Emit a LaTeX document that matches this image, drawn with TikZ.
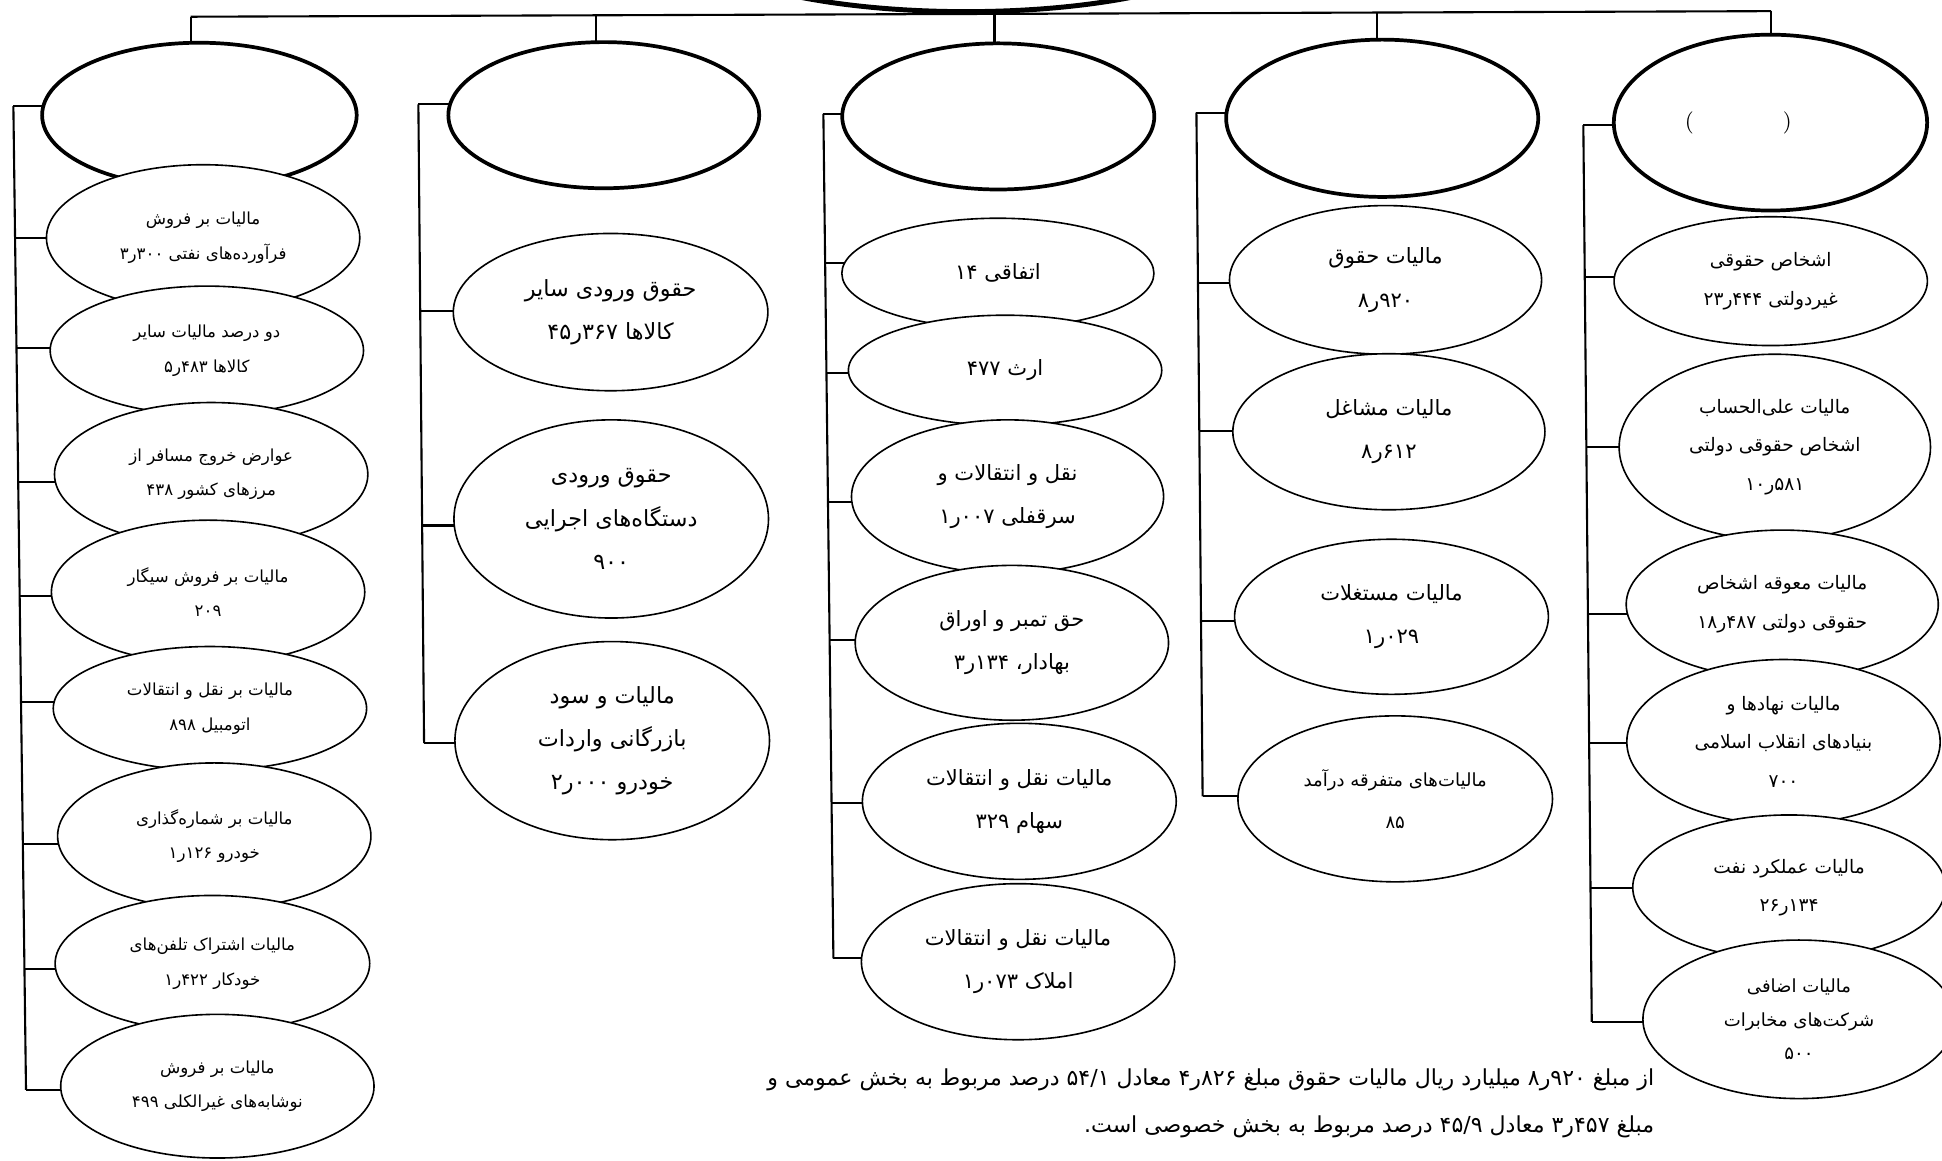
\documentclass[tikz,border=0pt]{standalone}
\usepackage{fontspec}
\newfontfamily\arabicfont[Script=Arabic]{DejaVu Sans}
\TeXXeTstate=1
\usetikzlibrary{shapes.geometric}
\pgfdeclarelayer{bg}
\pgfsetlayers{bg,main}
\newcommand\ArL[1]{\beginR #1\endR}
\newcommand\NS[2]{\beginL #1\kern0pt ر\kern0pt #2\endL}
\begin{document}
\begin{tikzpicture}[x=0.5pt,y=-0.5pt,
  el/.style 2 args={ellipse, draw, fill=white, inner sep=0pt, outer sep=0pt,
    minimum width=#1pt, minimum height=#2pt, align=center},
  topel/.style 2 args={el={#1}{#2}, line width=1.5pt},
  sub/.style 2 args={el={#1}{#2}, line width=0.65pt},
  conn/.style={line width=0.85pt},
  tk/.style={conn, shorten >=-2pt},
  fa/.style={font=\arabicfont\fontsize{6.7}{14}\selectfont},
  fb/.style={font=\arabicfont\fontsize{8.5}{17.5}\selectfont},
  fbb/.style={font=\arabicfont\fontsize{9}{17.5}\selectfont},
  fc/.style={font=\arabicfont\fontsize{7.5}{15.5}\selectfont},
  fn/.style={font=\arabicfont\fontsize{8.9}{19}\selectfont, align=right, inner sep=0pt}]
\useasboundingbox (0,0) rectangle (1568,937);

% title and top level
\node[topel={226}{60}, line width=2pt] (title) at (780,-50.6) {};
\node[topel={127}{58.5}] (t1) at (161,93) {};
\node[topel={125.5}{59}] (t2) at (487.5,93) {};
\node[topel={126}{59}] (t3) at (806,94) {};
\node[topel={126}{63.5}] (t4) at (1116,95.5) {};
\node[topel={126.5}{71}, font=\rmfamily\fontsize{9}{10}\selectfont] (t5) at (1429.5,99) {(\hspace{36pt})\hspace{26pt}};

% column 1
\node[sub={126.5}{59}, fa] (a1) at (164,192) {\ArL{مالیات بر فروش}\\\ArL{فرآورده‌های نفتی \NS{۳}{۳۰۰}}};
\node[sub={126.5}{52}, fa] (a2) at (167,283) {\ArL{دو درصد مالیات سایر}\\\ArL{کالاها \NS{۵}{۴۸۳}}};
\node[sub={126.5}{58}, fa] (a3) at (170.5,383) {\ArL{عوارض خروج مسافر از}\\\ArL{مرزهای کشور ۴۳۸}};
\node[sub={126.5}{58}, fa] (a4) at (168,478) {\ArL{مالیات بر فروش سیگار}\\\ArL{۲۰۹}};
\node[sub={126.5}{50}, fa] (a5) at (169.5,572) {\ArL{مالیات بر نقل و انتقالات}\\\ArL{اتومبیل ۸۹۸}};
\node[sub={126.5}{59}, fa] (a6) at (173,675) {\ArL{مالیات بر شماره‌گذاری}\\\ArL{خودرو \NS{۱}{۱۲۶}}};
\node[sub={127}{55}, fa] (a7) at (171.5,778) {\ArL{مالیات اشتراک تلفن‌های}\\\ArL{خودکار \NS{۱}{۴۲۲}}};
\node[sub={126.5}{58}, fa] (a8) at (175.5,877) {\ArL{مالیات بر فروش}\\\ArL{نوشابه‌های غیرالکلی ۴۹۹}};

% column 2
\node[sub={127}{63.5}, fbb] (b1) at (493,252) {\ArL{حقوق ورودی سایر}\\\ArL{کالاها \NS{۴۵}{۳۶۷}}};
\node[sub={127}{80}, fbb] (b2) at (493.5,419) {\ArL{حقوق ورودی}\\\ArL{دستگاه‌های اجرایی}\\\ArL{۹۰۰}};
\node[sub={127}{80}, fbb] (b3) at (494.3,598) {\ArL{مالیات و سود}\\\ArL{بازرگانی واردات}\\\ArL{خودرو \NS{۲}{۰۰۰}}};

% column 3
\node[sub={126}{44.5}, fb] (c1) at (805.7,220.7) {\ArL{اتفاقی ۱۴}};
\node[sub={126.5}{44.5}, fb] (c2) at (811.5,299) {\ArL{ارث ۴۷۷}};
\node[sub={126}{62}, fb] (c3) at (813.5,401) {\ArL{نقل و انتقالات و}\\\ArL{سرقفلی \NS{۱}{۰۰۷}}};
\node[sub={126.5}{62.5}, fb] (c4) at (817,519) {\ArL{حق تمبر و اوراق}\\\ArL{بهادار، \NS{۳}{۱۳۴}}};
\node[sub={126.7}{63}, fb] (c5) at (823,647) {\ArL{مالیات نقل و انتقالات}\\\ArL{سهام ۳۲۹}};
\node[sub={126.5}{63}, fb] (c6) at (822,776.5) {\ArL{مالیات نقل و انتقالات}\\\ArL{املاک \NS{۱}{۰۷۳}}};

% column 4
\node[sub={126}{60}, fb] (d1) at (1118.7,226) {\ArL{مالیات حقوق}\\\ArL{\NS{۸}{۹۲۰}}};
\node[sub={126}{63}, fb] (d2) at (1121.4,348.6) {\ArL{مالیات مشاغل}\\\ArL{\NS{۸}{۶۱۲}}};
\node[sub={126.7}{62.6}, fb] (d3) at (1123.5,498) {\ArL{مالیات مستغلات}\\\ArL{\NS{۱}{۰۲۹}}};
\node[sub={127}{67}, fb, font=\arabicfont\fontsize{7.3}{17}\selectfont] (d4) at (1126.5,645) {\ArL{مالیات‌های متفرقه درآمد}\\\ArL{۸۵}};

% column 5
\node[sub={126.5}{52}, fc] (e1) at (1429.7,227) {\ArL{اشخاص حقوقی}\\\ArL{غیردولتی \NS{۲۳}{۴۴۴}}};
\node[sub={125.7}{75}, fc] (e2) at (1433,361) {\ArL{مالیات علی‌الحساب}\\\ArL{اشخاص حقوقی دولتی}\\\ArL{\NS{۱۰}{۵۸۱}}};
\node[sub={126}{60}, fc] (e3) at (1439,488) {\ArL{مالیات معوقه اشخاص}\\\ArL{حقوقی دولتی \NS{۱۸}{۴۸۷}}};
\node[sub={126.5}{66.5}, fc] (e4) at (1440,599) {\ArL{مالیات نهادها و}\\\ArL{بنیادهای انقلاب اسلامی}\\\ArL{۷۰۰}};
\node[sub={126.2}{58.5}, fc] (e5) at (1444.5,716.5) {\ArL{مالیات عملکرد نفت}\\\ArL{\NS{۲۶}{۱۳۴}}};
\node[sub={126}{64}, fc, font=\arabicfont\fontsize{7.3}{13.5}\selectfont] (e6) at (1452.5,823) {\ArL{مالیات اضافی}\\\ArL{شرکت‌های مخابرات}\\\ArL{۵۰۰}};

% footnote
\node[fn, anchor=east] (note) at (1336,891) {\ArL{از مبلغ \NS{۸}{۹۲۰} میلیارد ریال مالیات حقوق مبلغ \NS{۴}{۸۲۶} معادل ۵۴/۱ درصد مربوط به بخش عمومی و}\\\ArL{مبلغ \NS{۳}{۴۵۷} معادل ۴۵/۹ درصد مربوط به بخش خصوصی است.}};

\begin{pgfonlayer}{bg}
% top bar and drops
\coordinate (bar1) at (154,13.5);
\coordinate (bar2) at (481,12.35);
\coordinate (bar3) at (803,11.2);
\coordinate (bar4) at (1112,10.1);
\coordinate (bar5) at (1430,9);
\draw[conn] (bar1) -- (bar5);
\draw[tk] (bar1) -- (bar1 |- t1.north);
\draw[tk] (bar2) -- (bar2 |- t2.north);
\draw[tk] (bar3) -- (bar3 |- t3.north);
\draw[tk] (bar4) -- (bar4 |- t4.north);
\draw[tk] (bar5) -- (bar5 |- t5.north);

% column 1
\coordinate (v1a) at (10.8,85.6);
\coordinate (v1b) at (21,880);
\draw[conn] (v1a) -- (v1b);
\draw[tk] (v1a) -- (t1.west |- v1a);
\draw[tk] (12.2,192) -- (a1.west |- 12.2,192);
\draw[tk] (13.3,281) -- (a2.west |- 13.3,281);
\draw[tk] (14.7,389) -- (a3.west |- 14.7,389);
\draw[tk] (15.9,481) -- (a4.west |- 15.9,481);
\draw[tk] (17,566.6) -- (a5.west |- 17,566.6);
\draw[tk] (18.5,681.5) -- (a6.west |- 18.5,681.5);
\draw[tk] (19.8,782.7) -- (a7.west |- 19.8,782.7);
\draw[tk] (v1b) -- (a8.west |- v1b);

% column 2
\coordinate (v2a) at (337.8,84.2);
\coordinate (v2b) at (342.4,600);
\draw[conn] (v2a) -- (v2b);
\draw[tk] (v2a) -- (t2.west |- v2a);
\draw[tk] (339.3,251.2) -- (b1.west |- 339.3,251.2);
\draw[tk] (340.8,424.3) -- (b2.west |- 340.8,424.3);
\draw[tk] (v2b) -- (b3.west |- v2b);

% column 3
\coordinate (v3a) at (664.8,92);
\coordinate (v3b) at (672.9,773.8);
\draw[conn] (v3a) -- (v3b);
\draw[tk] (v3a) -- (t3.west |- v3a);
\draw[tk] (666.2,212.6) -- (c1.west |- 666.2,212.6);
\draw[tk] (667.3,301.4) -- (c2.west |- 667.3,301.4);
\draw[tk] (668.5,405) -- (c3.west |- 668.5,405);
\draw[tk] (669.8,516.8) -- (c4.west |- 669.8,516.8);
\draw[tk] (671.4,648) -- (c5.west |- 671.4,648);
\draw[tk] (v3b) -- (c6.west |- v3b);

% column 4
\coordinate (v4a) at (966,91);
\coordinate (v4b) at (971,642.9);
\draw[conn] (v4a) -- (v4b);
\draw[tk] (v4a) -- (t4.west |- v4a);
\draw[tk] (967.2,228.4) -- (d1.west |- 967.2,228.4);
\draw[tk] (968.3,348.3) -- (d2.west |- 968.3,348.3);
\draw[tk] (969.7,501.2) -- (d3.west |- 969.7,501.2);
\draw[tk] (v4b) -- (d4.west |- v4b);

% column 5
\coordinate (v5a) at (1278.4,101);
\coordinate (v5b) at (1285.2,825);
\draw[conn] (v5a) -- (v5b);
\draw[tk] (v5a) -- (t5.west |- v5a);
\draw[tk] (1279.6,223.9) -- (e1.west |- 1279.6,223.9);
\draw[tk] (1280.8,360.7) -- (e2.west |- 1280.8,360.7);
\draw[tk] (1282.1,496) -- (e3.west |- 1282.1,496);
\draw[tk] (1283.1,600.2) -- (e4.west |- 1283.1,600.2);
\draw[tk] (1284.2,717.2) -- (e5.west |- 1284.2,717.2);
\draw[tk] (v5b) -- (e6.west |- v5b);
\end{pgfonlayer}
\end{tikzpicture}
\end{document}
